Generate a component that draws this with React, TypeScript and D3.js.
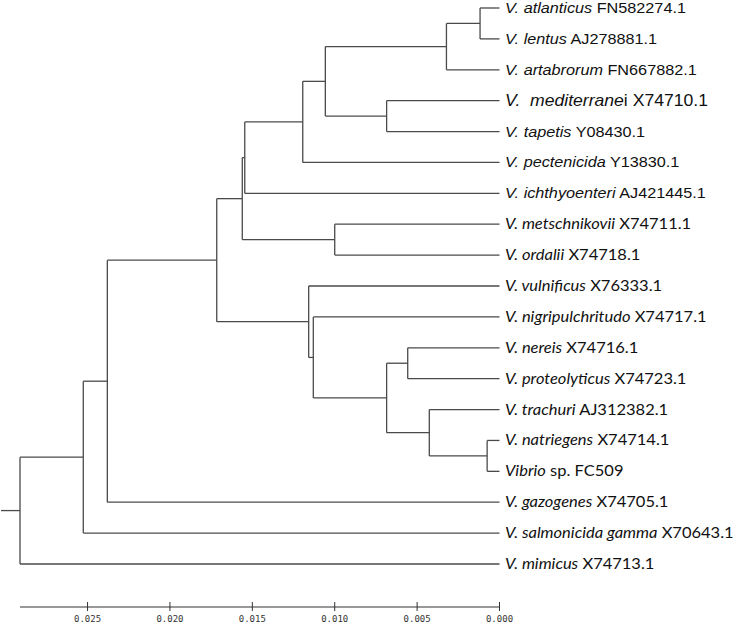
import React from "react";
import * as d3 from "d3";

// Internal nodes: id, parent, height (distance units)
const nodeIds = ["root", "A", "B", "C", "D", "E", "F", "G", "H", "I", "J", "K", "L", "M", "N", "O", "P", "Q"];
const nodeParents = ["", "root", "A", "B", "C", "D", "E", "F", "G", "H", "G", "D", "C", "L", "M", "N", "N", "P"];
const nodeHeights = [0.0291, 0.02526, 0.0238, 0.01716, 0.01561, 0.01546, 0.01194, 0.01057, 0.00322, 0.00118, 0.00685, 0.0100, 0.01158, 0.0113, 0.00685, 0.00557, 0.00426, 0.00075];

// Leaves (top to bottom)
const leafSpecies = [
  "V. atlanticus", "V. lentus", "V. artabrorum", "V.  mediterrane", "V. tapetis", "V. pectenicida",
  "V. ichthyoenteri", "V. metschnikovii", "V. ordalii", "V. vulnificus", "V. nigripulchritudo",
  "V. nereis", "V. proteolyticus", "V. trachuri", "V. natriegens", "Vibrio", "V. gazogenes",
  "V. salmonicida gamma", "V. mimicus",
];
const leafAccession = [
  " FN582274.1", " AJ278881.1", " FN667882.1", "i X74710.1", " Y08430.1", " Y13830.1",
  " AJ421445.1", " X74711.1", " X74718.1", " X76333.1", " X74717.1",
  " X74716.1", " X74723.1", " AJ312382.1", " X74714.1", " sp. FC509", " X74705.1",
  " X70643.1", " X74713.1",
];
const leafParents = ["I", "I", "H", "J", "J", "F", "E", "K", "K", "L", "M", "O", "O", "P", "Q", "Q", "B", "A", "root"];

const axisTicks = [0.025, 0.02, 0.015, 0.01, 0.005, 0.0];

type N = { id: string; parent: string; h: number; leaf: number };

export default function App() {
  const W = 745, H = 625;
  const x = d3.scaleLinear().domain([0.0291, 0]).range([20, 499.5]);
  const yLeaf = d3.scaleLinear().domain([0, leafSpecies.length - 1]).range([8, 564]);

  const rows: N[] = [
    ...nodeIds.map((id, i) => ({ id, parent: nodeParents[i], h: nodeHeights[i], leaf: -1 })),
    ...leafSpecies.map((s, i) => ({ id: "leaf" + i, parent: leafParents[i], h: 0, leaf: i })),
  ];
  const root = d3
    .stratify<N>()
    .id((d) => d.id)
    .parentId((d) => (d.parent === "" ? null : d.parent))(rows);

  const yPos = new Map<string, number>();
  root.eachAfter((n) => {
    if (n.data.leaf >= 0) yPos.set(n.id!, yLeaf(n.data.leaf));
    else {
      const ys = n.children!.map((c) => yPos.get(c.id!)!);
      yPos.set(n.id!, (d3.min(ys)! + d3.max(ys)!) / 2);
    }
  });

  const lines: { x1: number; y1: number; x2: number; y2: number }[] = [];
  root.each((n) => {
    const nx = x(n.data.h);
    const ny = yPos.get(n.id!)!;
    if (n.children) {
      const ys = n.children.map((c) => yPos.get(c.id!)!);
      lines.push({ x1: nx, y1: d3.min(ys)!, x2: nx, y2: d3.max(ys)! });
    }
    if (n.parent) {
      lines.push({ x1: x(n.parent.data.h), y1: ny, x2: nx, y2: ny });
    } else {
      lines.push({ x1: 1, y1: ny, x2: nx, y2: ny });
    }
  });

  const leaves = root.leaves().sort((a, b) => a.data.leaf - b.data.leaf);
  const axisY = 607;

  return (
    <svg width={W} height={H} style={{ position: "absolute", left: 0, top: 0, background: "#fff" }}>
      <g stroke="#4a4a4a" strokeWidth={1.3} fill="none">
        {lines.map((l, i) => (
          <line key={i} x1={l.x1} y1={l.y1} x2={l.x2} y2={l.y2} />
        ))}
      </g>
      {leaves.map((n) => {
        const i = n.data.leaf;
        const arial = i < 7;
        const big = i === 3;
        const fs = big ? 16 : arial ? 14.5 : 15;
        const sx = big ? 1.1 : arial ? 1.12 : 1.1;
        const y = yPos.get(n.id!)! + (big ? 5.5 : 5);
        return (
          <text
            key={i}
            transform={`translate(505,${y}) scale(${sx},1)`}
            fontFamily={arial ? "Liberation Sans, Arial, sans-serif" : "Lato, sans-serif"}
            fontSize={fs}
            fill="#111"
            style={{ whiteSpace: "pre" }}
          >
            <tspan fontStyle="italic">{leafSpecies[i]}</tspan>
            <tspan>{leafAccession[i]}</tspan>
          </text>
        );
      })}
      <g>
        <line x1={20} x2={x(0)} y1={axisY} y2={axisY} stroke="#333" strokeWidth={1.2} />
        {axisTicks.map((t) => (
          <g key={t}>
            <line x1={x(t)} x2={x(t)} y1={axisY - 5} y2={axisY + 4} stroke="#333" strokeWidth={1} />
            <text
              x={x(t)}
              y={axisY + 15}
              textAnchor="middle"
              fontFamily="DejaVu Sans Mono, monospace"
              fontSize={9}
              fill="#333"
            >
              {d3.format(".3f")(t)}
            </text>
          </g>
        ))}
      </g>
    </svg>
  );
}
